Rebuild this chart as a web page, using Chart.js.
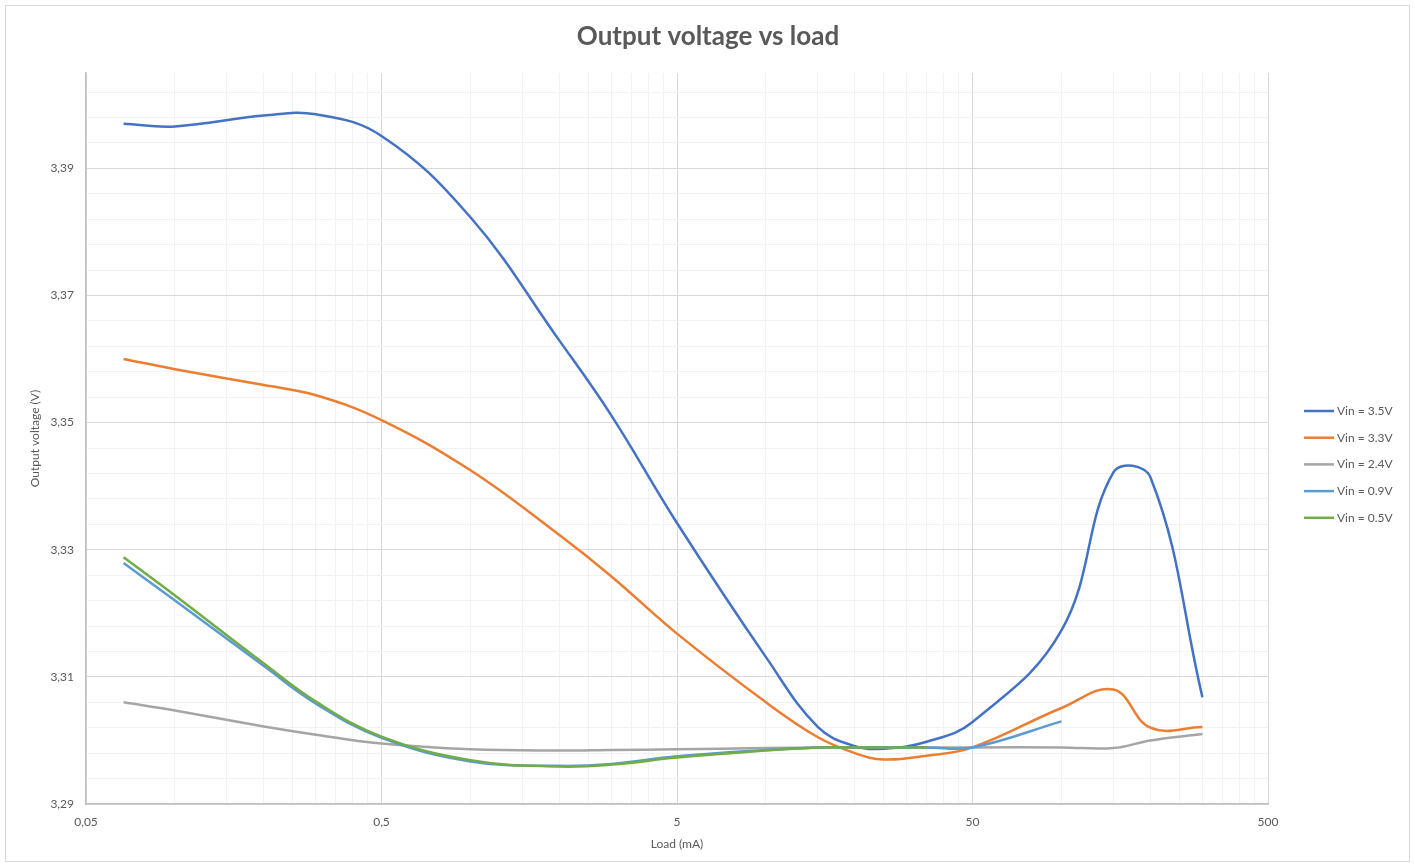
<!DOCTYPE html>
<html>
<head>
<meta charset="utf-8">
<title>Output voltage vs load</title>
<script src="https://cdn.jsdelivr.net/npm/chart.js@4.4.1/dist/chart.umd.min.js"></script>
<style>
    html, body { margin: 0; padding: 0; background: #fff; }
    #wrap { position: relative; width: 1415px; height: 867px; }
</style>
</head>
<body>
<div id="wrap"><canvas id="voltageChart"></canvas></div>
<script>
// load in mA (log axis)
const loads = [0.067, 0.1, 0.2, 0.3, 0.5, 1, 2, 3, 5, 10, 15, 20, 25, 35, 50, 100, 150, 200, 300];

// output voltage (V) for each input voltage
const vin35 = [3.3970, 3.3966, 3.3983, 3.3985, 3.3951, 3.3823, 3.3629, 3.3511, 3.3342, 3.3131, 3.3021, 3.2991, 3.2987, 3.2998, 3.3029, 3.3173, 3.3422, 3.3414, 3.3068];
const vin33 = [3.3600, 3.3584, 3.3559, 3.3543, 3.3504, 3.3425, 3.3323, 3.3258, 3.3168, 3.3060, 3.3005, 3.2980, 3.2970, 3.2976, 3.2989, 3.3051, 3.3080, 3.3020, 3.3021];
const vin24 = [3.3060, 3.3047, 3.3022, 3.3009, 3.2995, 3.2986, 3.2984, 3.2985, 3.2986, 3.2988, 3.2989, 3.2989, 3.2989, 3.2989, 3.2989, 3.2989, 3.2988, 3.3000, 3.3010];
const vin09 = [3.3279, 3.3220, 3.3117, 3.3058, 3.3004, 3.2967, 3.2960, 3.2963, 3.2975, 3.2985, 3.2989, 3.2989, 3.2989, 3.2989, 3.2989, 3.3030, null, null, null];
const vin05 = [3.3288, 3.3228, 3.3121, 3.3061, 3.3006, 3.2969, 3.2959, 3.2962, 3.2973, 3.2984, 3.2989, 3.2989, 3.2989, 3.2989, null, null, null, null, null];

const seriesLabels = ['Vin = 3.5V', 'Vin = 3.3V', 'Vin = 2.4V', 'Vin = 0.9V', 'Vin = 0.5V'];
const seriesColors = ['#4472C4', '#ED7D31', '#A5A5A5', '#5B9BD5', '#70AD47'];
const seriesValues = [vin35, vin33, vin24, vin09, vin05];

// x ticks: 0.05 .. 500, 1-9 per decade
const xTicks = [];
for (let d = 0; d < 4; d++) {
    for (let k = 1; k <= 9; k++) {
        xTicks.push(Number((0.05 * k * Math.pow(10, d)).toPrecision(6)));
    }
}
xTicks.push(500);

// y ticks: 3.29 .. 3.402 every 0.004, labels every 0.02
const yTicks = [];
for (let i = 0; i <= 28; i++) {
    yTicks.push(Number((3.29 + i * 0.004).toFixed(3)));
}

function isMajorX(v) {
    const e = Math.log10(v / 0.05);
    return Math.abs(e - Math.round(e)) < 1e-6;
}

// white background, outer frame and centred title
const chartFrame = {
    id: 'chartFrame',
    beforeDraw(chart) {
        const c = chart.ctx;
        c.save();
        c.fillStyle = '#fff';
        c.fillRect(0, 0, chart.width, chart.height);
        c.strokeStyle = '#d9d9d9';
        c.lineWidth = 1;
        c.strokeRect(5.5, 5.5, 1404, 856);
        c.fillStyle = '#595959';
        c.font = 'bold 26px Lato';
        c.textAlign = 'center';
        c.textBaseline = 'middle';
        c.fillText('Output voltage vs load', 708, 37);
        c.restore();
    }
};

const sideLegend = {
    id: 'sideLegend',
    afterDraw(chart) {
        const c = chart.ctx;
        c.save();
        c.font = '12px Lato';
        c.fillStyle = '#595959';
        c.textBaseline = 'middle';
        chart.data.datasets.forEach((ds, i) => {
            const y = 411 + i * 26.7;
            c.strokeStyle = ds.borderColor;
            c.lineWidth = 2.5;
            c.beginPath();
            c.moveTo(1304, y);
            c.lineTo(1334, y);
            c.stroke();
            c.fillText(ds.label, 1337, y);
        });
        c.restore();
    }
};

const ctx = document.getElementById('voltageChart').getContext('2d');

const voltageChart = new Chart(ctx, {
    type: 'line',
    data: {
        labels: loads,
        datasets: seriesValues.map((vals, i) => ({
            label: seriesLabels[i],
            data: loads.map((x, j) => ({ x: x, y: vals[j] })).filter(p => p.y !== null),
            borderColor: seriesColors[i],
            backgroundColor: seriesColors[i],
            borderWidth: 2.5,
            pointRadius: 0,
            fill: false,
            tension: 0.4,
            order: seriesValues.length - i
        }))
    },
    options: {
        responsive: true,
        maintainAspectRatio: false,
        animation: false,
        layout: {
            padding: { left: 24, right: 147, top: 73, bottom: 12 }
        },
        plugins: {
            legend: { display: false },
            tooltip: { enabled: false }
        },
        scales: {
            x: {
                type: 'logarithmic',
                min: 0.05,
                max: 500,
                afterBuildTicks: (scale) => {
                    scale.ticks = xTicks.map(v => ({ value: v }));
                },
                afterFit: (scale) => { scale.height = 51; },
                ticks: {
                    autoSkip: false,
                    maxRotation: 0,
                    padding: 11,
                    color: '#595959',
                    font: { family: 'Lato', size: 12 },
                    callback: (v) => isMajorX(v) ? String(v).replace('.', ',') : ''
                },
                grid: {
                    drawTicks: false,
                    color: (c) => isMajorX(c.tick.value) ? '#d9d9d9' : '#f2f2f2'
                },
                border: { color: '#bfbfbf', width: 1.5 },
                title: {
                    display: true,
                    text: 'Load (mA)',
                    color: '#595959',
                    font: { family: 'Lato', size: 12 },
                    padding: { top: 4, bottom: 4 }
                }
            },
            y: {
                type: 'linear',
                min: 3.29,
                max: 3.405,
                afterBuildTicks: (scale) => {
                    scale.ticks = yTicks.map(v => ({ value: v }));
                },
                afterFit: (scale) => { scale.width = 62; },
                ticks: {
                    autoSkip: false,
                    padding: 12,
                    color: '#595959',
                    font: { family: 'Lato', size: 12 },
                    callback: (v, i) => i % 5 === 0 ? v.toFixed(2).replace('.', ',') : ''
                },
                grid: {
                    drawTicks: false,
                    color: (c) => c.index % 5 === 0 ? '#d9d9d9' : '#f2f2f2'
                },
                border: { color: '#bfbfbf', width: 1.5 },
                title: {
                    display: true,
                    text: 'Output voltage (V)',
                    color: '#595959',
                    font: { family: 'Lato', size: 12 },
                    padding: { top: 4, bottom: 4 }
                }
            }
        }
    },
    plugins: [chartFrame, sideLegend]
});
</script>
</body>
</html>
